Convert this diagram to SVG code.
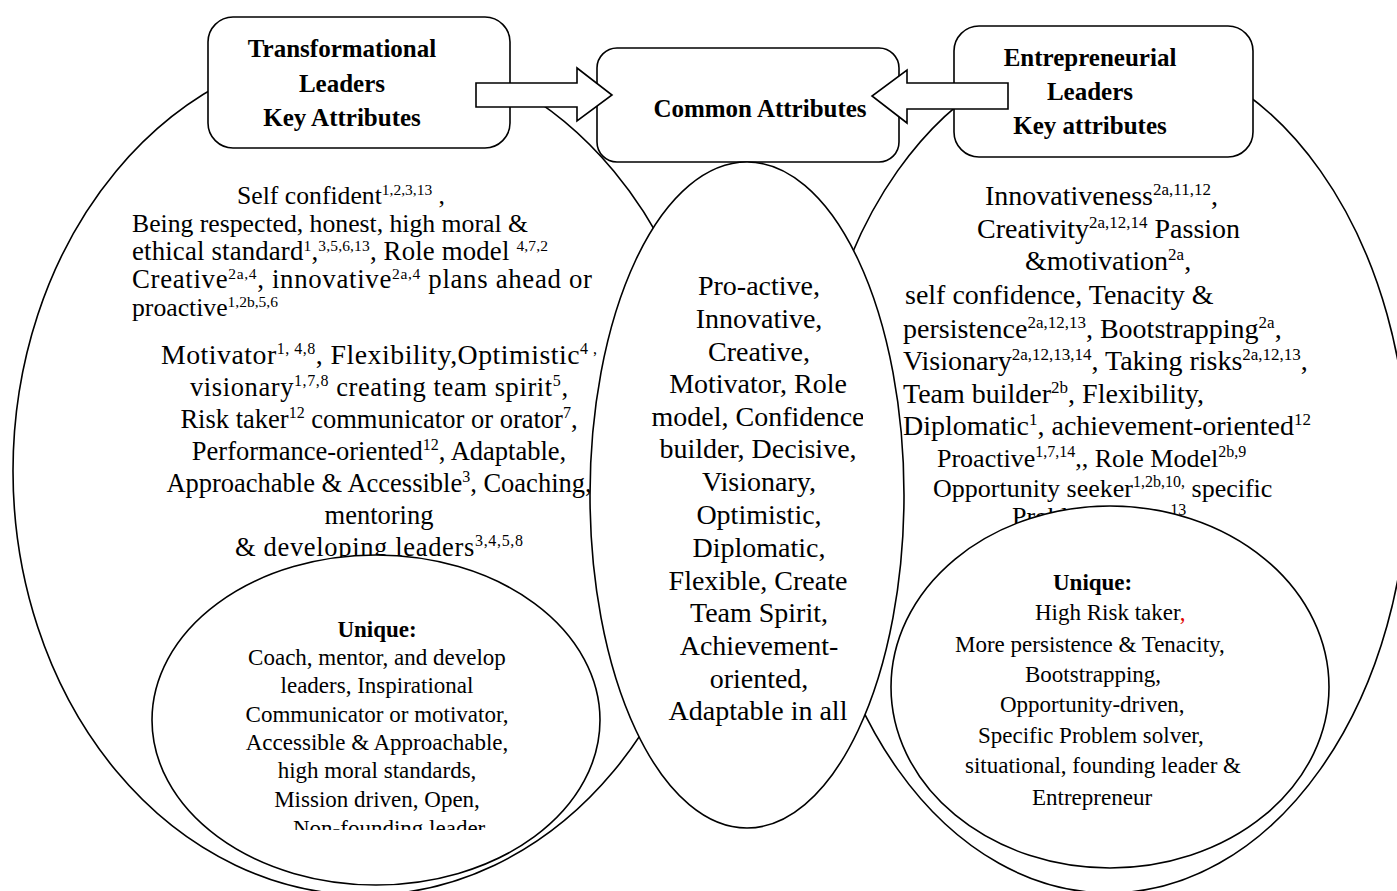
<svg xmlns="http://www.w3.org/2000/svg" width="1397" height="891" viewBox="0 0 1397 891">
<style>
text{font-family:"Liberation Serif","Times New Roman",serif;fill:#000}
.shape{fill:#fff;stroke:#000;stroke-width:1.6}
.hdr{font-weight:bold;font-size:25px;text-anchor:middle}
.a{font-size:25.7px}
.a2{font-size:26.8px}
.b{font-size:26.5px}
.b2{font-size:27.8px}
.r{font-size:28px}
.r2{font-size:26px}
.c{font-size:28px;text-anchor:middle}
.u{font-size:23px}
.ub{font-size:23px;font-weight:bold}
.sup{font-size:15.5px}
.sup2{font-size:16px}
.sup3{font-size:17px}
.mid{text-anchor:middle}
.red{fill:#e00000}
</style>
<defs>
<clipPath id="clipC"><rect x="600" y="160" width="263" height="575"/></clipPath>
<clipPath id="clipU"><rect x="150" y="560" width="460" height="270"/></clipPath>
</defs>
<rect width="1397" height="891" fill="#fff"/>

<g id="set-transformational">
<ellipse class="shape" cx="365" cy="471" rx="352" ry="424"/>
</g>
<g id="set-entrepreneurial">
<ellipse class="shape" cx="1109" cy="470" rx="299" ry="423"/>
</g>

<g id="box-transformational">
<rect class="shape" x="208" y="17" width="302" height="131" rx="25"/>
<text class="hdr" x="342" y="57">Transformational</text>
<text class="hdr" x="342" y="92">Leaders</text>
<text class="hdr" x="342" y="126">Key Attributes</text>
</g>
<g id="box-common">
<rect class="shape" x="597" y="48" width="302" height="114" rx="20"/>
<text class="hdr" x="760" y="117">Common Attributes</text>
</g>
<g id="box-entrepreneurial">
<rect class="shape" x="954" y="26" width="299" height="131" rx="25"/>
<text class="hdr" x="1090" y="66">Entrepreneurial</text>
<text class="hdr" x="1090" y="100">Leaders</text>
<text class="hdr" x="1090" y="134">Key attributes</text>
</g>

<g id="connectors">
<polygon class="shape" points="476,83 577,83 577,68 612,95 577,121 577,107 476,107"/>
<polygon class="shape" points="1008,83 907,83 907,70 872,96 907,123 907,109 1008,109"/>
</g>

<g id="text-transformational">
<text class="a" x="237" y="204">Self confident<tspan class="sup" dy="-9">1,2,3,13</tspan><tspan dy="9"> ,</tspan></text>
<text class="a" x="132" y="232">Being respected, honest, high moral &amp;</text>
<text class="a2" x="132" y="260" textLength="416" lengthAdjust="spacing">ethical standard<tspan class="sup" dy="-9">1</tspan><tspan dy="9">,</tspan><tspan class="sup" dy="-9">3,5,6,13</tspan><tspan dy="9">,  Role model </tspan><tspan class="sup" dy="-9">4,7,2</tspan></text>
<text class="a2" x="132" y="288" textLength="460" lengthAdjust="spacing">Creative<tspan class="sup" dy="-9">2a,4</tspan><tspan dy="9">, innovative</tspan><tspan class="sup" dy="-9">2a,4</tspan><tspan dy="9">  plans ahead or</tspan></text>
<text class="a" x="132" y="316">proactive<tspan class="sup" dy="-9">1,2b,5,6</tspan></text>
<text class="b2 mid" x="379" y="364" textLength="436" lengthAdjust="spacing">Motivator<tspan class="sup2" dy="-10">1, 4,8</tspan><tspan dy="10">, Flexibility,Optimistic</tspan><tspan class="sup2" dy="-10">4 ,</tspan></text>
<text class="b mid" x="379" y="396" textLength="378" lengthAdjust="spacing">visionary<tspan class="sup2" dy="-10">1,7,8</tspan><tspan dy="10"> creating team spirit</tspan><tspan class="sup2" dy="-10">5</tspan><tspan dy="10">,</tspan></text>
<text class="b mid" x="379" y="428">Risk taker<tspan class="sup2" dy="-10">12</tspan><tspan dy="10"> communicator or orator</tspan><tspan class="sup2" dy="-10">7</tspan><tspan dy="10">,</tspan></text>
<text class="b mid" x="379" y="460">Performance-oriented<tspan class="sup2" dy="-10">12</tspan><tspan dy="10">, Adaptable,</tspan></text>
<text class="b mid" x="379" y="492">Approachable &amp; Accessible<tspan class="sup2" dy="-10">3</tspan><tspan dy="10">, Coaching,</tspan></text>
<text class="b mid" x="379" y="524">mentoring</text>
<text class="b mid" x="379" y="556" textLength="288" lengthAdjust="spacing">&amp; developing leaders<tspan class="sup2" dy="-10">3,4,5,8</tspan></text>
</g>

<g id="text-entrepreneurial">
<text class="r" x="985" y="205">Innovativeness<tspan class="sup3" dy="-10">2a,11,12</tspan><tspan dy="10">,</tspan></text>
<text class="r" x="977" y="238">Creativity<tspan class="sup3" dy="-10">2a,12,14</tspan><tspan dy="10"> Passion</tspan></text>
<text class="r" x="1025" y="270">&amp;motivation<tspan class="sup3" dy="-10">2a</tspan><tspan dy="10">,</tspan></text>
<text class="r" x="905" y="304">self confidence, Tenacity &amp;</text>
<text class="r" x="903" y="338">persistence<tspan class="sup3" dy="-10">2a,12,13</tspan><tspan dy="10">, Bootstrapping</tspan><tspan class="sup3" dy="-10">2a</tspan><tspan dy="10">,</tspan></text>
<text class="r" x="903" y="370">Visionary<tspan class="sup3" dy="-10">2a,12,13,14</tspan><tspan dy="10">, Taking risks</tspan><tspan class="sup3" dy="-10">2a,12,13</tspan><tspan dy="10">,</tspan></text>
<text class="r" x="903" y="403">Team builder<tspan class="sup3" dy="-10">2b</tspan><tspan dy="10">, Flexibility,</tspan></text>
<text class="r" x="903" y="435">Diplomatic<tspan class="sup3" dy="-10">1</tspan><tspan dy="10">,  achievement-oriented</tspan><tspan class="sup3" dy="-10">12</tspan></text>
<text class="r2" x="937" y="467">Proactive<tspan class="sup2" dy="-10">1,7,14</tspan><tspan dy="10">,, Role Model</tspan><tspan class="sup2" dy="-10">2b,9</tspan></text>
<text class="r2" x="933" y="497">Opportunity seeker<tspan class="sup2" dy="-10">1,2b,10,</tspan><tspan dy="10"> specific</tspan></text>
<text class="r2" x="1012" y="525">Problem solver<tspan class="sup2" dy="-10">13</tspan></text>
</g>

<g id="node-common">
<ellipse class="shape" cx="747" cy="495" rx="157" ry="333"/>
<g clip-path="url(#clipC)">
<text class="c" x="759" y="295">Pro-active,</text>
<text class="c" x="759" y="328">Innovative,</text>
<text class="c" x="759" y="361">Creative,</text>
<text class="c" x="758" y="393">Motivator, Role</text>
<text class="c" x="758" y="426">model, Confidence</text>
<text class="c" x="758" y="458">builder, Decisive,</text>
<text class="c" x="759" y="491">Visionary,</text>
<text class="c" x="759" y="524">Optimistic,</text>
<text class="c" x="759" y="557">Diplomatic,</text>
<text class="c" x="758" y="590">Flexible, Create</text>
<text class="c" x="759" y="622">Team Spirit,</text>
<text class="c" x="759" y="655">Achievement-</text>
<text class="c" x="759" y="688">oriented,</text>
<text class="c" x="758" y="720">Adaptable in all</text>
</g>
</g>

<g id="node-unique-transformational">
<ellipse class="shape" cx="376" cy="720" rx="224" ry="165"/>
<g clip-path="url(#clipU)">
<text class="ub mid" x="377" y="637">Unique:</text>
<text class="u mid" x="377" y="665">Coach, mentor, and develop</text>
<text class="u mid" x="377" y="693">leaders, Inspirational</text>
<text class="u mid" x="377" y="722">Communicator or motivator,</text>
<text class="u mid" x="377" y="750">Accessible &amp; Approachable,</text>
<text class="u mid" x="377" y="778">high moral standards,</text>
<text class="u mid" x="377" y="807">Mission driven,  Open,</text>
<text class="u" x="293" y="836">Non-founding leader</text>
</g>
</g>

<g id="node-unique-entrepreneurial">
<ellipse class="shape" cx="1110" cy="687" rx="219" ry="181"/>
<text class="ub" x="1053" y="590">Unique:</text>
<text class="u" x="1035" y="620">High Risk taker<tspan class="red">,</tspan></text>
<text class="u" x="955" y="652">More persistence &amp; Tenacity,</text>
<text class="u" x="1025" y="682">Bootstrapping,</text>
<text class="u" x="1000" y="712">Opportunity-driven,</text>
<text class="u" x="978" y="743">Specific Problem solver,</text>
<text class="u" x="965" y="773">situational, founding leader &amp;</text>
<text class="u" x="1032" y="805">Entrepreneur</text>
</g>
</svg>
